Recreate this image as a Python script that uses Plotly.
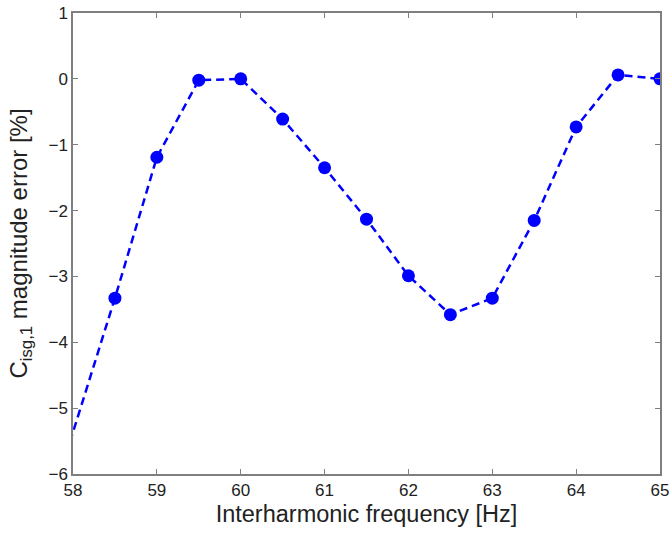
import plotly.graph_objects as go

freq = [57.5, 58.5, 59, 59.5, 60, 60.5, 61, 61.5, 62, 62.5, 63, 63.5, 64, 64.5, 65]
err = [-7.4, -3.33, -1.19, -0.02, 0.0, -0.61, -1.35, -2.13, -2.99, -3.58, -3.33, -2.15, -0.73, 0.06, 0.0]
x_ticks = [58, 59, 60, 61, 62, 63, 64, 65]
y_ticks = [-6, -5, -4, -3, -2, -1, 0, 1]

FONT = "Liberation Sans, Arial, sans-serif"

fig = go.Figure()
fig.add_trace(go.Scatter(
    x=freq, y=err, mode="lines+markers",
    line=dict(color="#0000ff", width=2.5, dash="8px,5px"),
    marker=dict(color="#0000ff", size=13),
    cliponaxis=True, showlegend=False,
))

axis_common = dict(
    showgrid=False, zeroline=False, showline=True, linecolor="#7f7f7f", linewidth=1.5,
    mirror="ticks", ticks="inside", ticklen=5, tickcolor="#7f7f7f", tickwidth=1,
    automargin=False, ticklabeloverflow="allow",
    tickfont=dict(family=FONT, size=17, color="#222"),
)
fig.update_xaxes(range=[58, 65], tickvals=x_ticks,
                 title=dict(text="Interharmonic frequency [Hz]", standoff=6,
                            font=dict(family=FONT, size=23.5, color="#222")),
                 **axis_common)
fig.update_yaxes(range=[-6, 1], tickvals=y_ticks,
                 title=dict(text="C<sub>isg,1</sub> magnitude error [%]", standoff=14,
                            font=dict(family=FONT, size=24, color="#222")),
                 **axis_common)
fig.update_layout(
    width=669, height=536, paper_bgcolor="white", plot_bgcolor="white",
    margin=dict(l=73, r=9, t=13, b=62),
)
fig.write_html("out.html", config={"displayModeBar": False},
               post_script="document.body.style.margin='0';")
